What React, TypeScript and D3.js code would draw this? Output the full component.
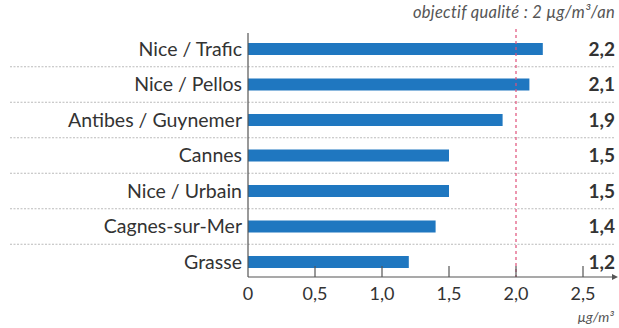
import React from "react";
import * as d3 from "d3";

const categories = ["Nice / Trafic", "Nice / Pellos", "Antibes / Guynemer", "Cannes", "Nice / Urbain", "Cagnes-sur-Mer", "Grasse"];
const values = [2.2, 2.1, 1.9, 1.5, 1.5, 1.4, 1.2];
const valueLabels = ["2,2", "2,1", "1,9", "1,5", "1,5", "1,4", "1,2"];
const ticks = [0, 0.5, 1.0, 1.5, 2.0, 2.5];
const tickLabels = ["0", "0,5", "1,0", "1,5", "2,0", "2,5"];
const objective = 2;
const title = "objectif qualité : 2 µg/m³/an";
const unit = "µg/m³";

export default function App() {
  const W = 619, H = 328;
  const x = d3.scaleLinear().domain([0, 2.5]).range([248, 583]);
  const y = d3.scaleBand<string>().domain(categories).range([31.25, 279.75]);
  const axisY = 277;
  const barH = 12;
  const font = "Lato, 'Open Sans', sans-serif";
  const sepYs = categories.slice(1).map((c) => y(c) as number);
  return (
    <svg width={W} height={H} style={{ position: "absolute", left: 0, top: 0, background: "#fff" }}>
      <text x={615} y={18} textAnchor="end" fontFamily={font} fontStyle="italic" fontSize={16.5} fill="#555" letterSpacing={0.3}>{title}</text>
      {sepYs.map((sy, i) => (
        <line key={i} x1={10} x2={615} y1={sy} y2={sy} stroke="#bbb" strokeWidth={1} strokeDasharray="2,1.5" />
      ))}
      {categories.map((c, i) => {
        const cy = (y(c) as number) + y.bandwidth() / 2;
        return (
          <g key={c}>
            <text x={242} y={cy} dy="0.35em" textAnchor="end" fontFamily={font} fontSize={19.5} fill="#333">{c}</text>
            <rect x={x(0)} y={cy - barH / 2} width={x(values[i]) - x(0)} height={barH} fill="#1f77c0" />
            <text x={615} y={cy} dy="0.35em" textAnchor="end" fontFamily={font} fontWeight="bold" fontSize={19} fill="#333">{valueLabels[i]}</text>
          </g>
        );
      })}
      <line x1={x(objective)} x2={x(objective)} y1={29} y2={axisY} stroke="#e0507a" strokeWidth={1.2} strokeDasharray="3,3" />
      <line x1={x(0)} x2={x(0)} y1={33} y2={axisY} stroke="#555" strokeWidth={1.2} />
      <line x1={x(0)} x2={612} y1={axisY} y2={axisY} stroke="#555" strokeWidth={1.2} />
      <path d={`M612,${axisY - 3} L618,${axisY} L612,${axisY + 3} Z`} fill="#555" />
      {ticks.map((t, i) => (
        <g key={t}>
          {t > 0 && <line x1={x(t)} x2={x(t)} y1={axisY - 11} y2={axisY} stroke="#555" strokeWidth={1.2} />}
          <text x={x(t)} y={294} dy="0.35em" textAnchor="middle" fontFamily={font} fontSize={18} fill="#333">{tickLabels[i]}</text>
        </g>
      ))}
      <text x={614} y={322} textAnchor="end" fontFamily={font} fontStyle="italic" fontSize={14} fill="#555">{unit}</text>
    </svg>
  );
}
